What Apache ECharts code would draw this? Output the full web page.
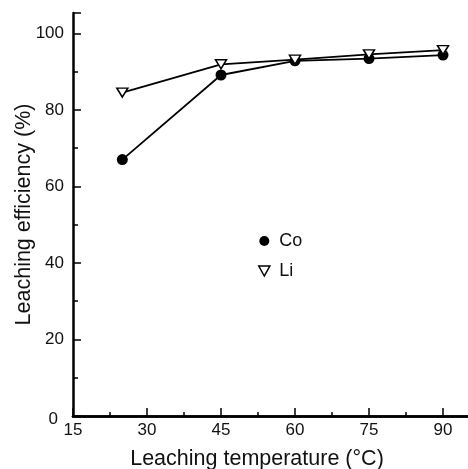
<!DOCTYPE html>
<html>
<head>
<meta charset="utf-8">
<script src="https://cdn.jsdelivr.net/npm/echarts@6/dist/echarts.min.js"></script>
<style>html,body{margin:0;padding:0;background:#fff}#c{width:468px;height:469px}</style>
</head>
<body>
<div id="c"></div>
<script>
const temperatures = [25, 45, 60, 75, 90];
const coValues = [67.0, 89.1, 92.8, 93.4, 94.3];
const liValues = [84.5, 91.9, 93.1, 94.5, 95.6];
const seriesNames = ['Co', 'Li'];
const xTitle = 'Leaching temperature (\u00B0C)';
const yTitle = 'Leaching efficiency (%)';

const FONT = 'Liberation Sans, Arial, Helvetica, sans-serif';
const chart = echarts.init(document.getElementById('c'), null, {renderer: 'canvas'});
const pair = (xs, ys) => xs.map((x, i) => [x, ys[i]]);

chart.setOption({
  animation: false,
  backgroundColor: '#fff',
  grid: {left: 73, top: 13, right: -49, bottom: 53, outerBoundsMode: 'none', containLabel: false},
  legend: {
    orient: 'vertical', left: 253, top: 227,
    itemWidth: 20, itemHeight: 10, itemGap: 12,
    textStyle: {fontFamily: FONT, fontSize: 18, color: '#111'},
    data: [
      {name: 'Co', icon: 'circle', itemStyle: {color: '#000', borderWidth: 0}},
      {name: 'Li', icon: 'path://M0,0 L10,0 L5,9 Z', itemStyle: {color: '#fff', borderColor: '#000', borderWidth: 1.5}}
    ],
    lineStyle: {width: 0, opacity: 0}
  },
  xAxis: [{
    type: 'value', min: 15, max: 105, interval: 15,
    name: xTitle, nameLocation: 'middle', nameGap: 32, nameMoveOverlap: false,
    nameTextStyle: {fontFamily: FONT, fontSize: 21.5, color: '#111', padding: [0, 76, 0, 0]},
    axisLine: {lineStyle: {color: '#000', width: 2.5}},
    axisTick: {inside: true, length: 8, lineStyle: {color: '#000', width: 1.5}},
    minorTick: {show: true, splitNumber: 2, length: 4, lineStyle: {color: '#000', width: 1.5}},
    axisLabel: {fontFamily: FONT, fontSize: 17, color: '#111', margin: 6,
      formatter: v => (v <= 90 ? String(v) : '')},
    splitLine: {show: false}
  }, {
    type: 'value', position: 'top', min: 15, max: 105,
    axisLine: {show: true, lineStyle: {color: '#000', width: 2.5}},
    axisTick: {show: false}, axisLabel: {show: false}, splitLine: {show: false}
  }],
  yAxis: [{
    type: 'value', min: 0, max: 105.3, interval: 20,
    name: yTitle, nameLocation: 'middle', nameGap: 38, nameMoveOverlap: false,
    nameTextStyle: {fontFamily: FONT, fontSize: 21.5, color: '#111'},
    axisLine: {lineStyle: {color: '#000', width: 2.5}},
    axisTick: {inside: true, length: 8, lineStyle: {color: '#000', width: 1.5}},
    axisLabel: {fontFamily: FONT, fontSize: 17, color: '#111', margin: 9,
      formatter: v => (v === 0 ? '{z|0}' : (v % 20 === 0 ? String(v) : '')),
      rich: {z: {fontFamily: FONT, fontSize: 17, color: '#111', padding: [6, 6, 0, 0]}}},
    splitLine: {show: false}
  }, {
    type: 'value', min: 0, max: 105.3, interval: 10, position: 'left',
    axisLine: {show: false},
    axisTick: {inside: true, length: 5, lineStyle: {color: '#000', width: 1.5}},
    axisLabel: {show: false}, splitLine: {show: false}
  }],
  series: [{
    name: seriesNames[0], type: 'line', data: pair(temperatures, coValues),
    symbol: 'circle', symbolSize: 11,
    lineStyle: {color: '#000', width: 1.8},
    itemStyle: {color: '#000', borderWidth: 0}, z: 2
  }, {
    name: seriesNames[1], type: 'line', data: pair(temperatures, liValues),
    symbol: 'triangle', symbolRotate: 180, symbolSize: [11, 9],
    lineStyle: {color: '#000', width: 1.8},
    itemStyle: {color: '#fff', borderColor: '#000', borderWidth: 1.5}, z: 3
  }]
});
</script>
</body>
</html>
